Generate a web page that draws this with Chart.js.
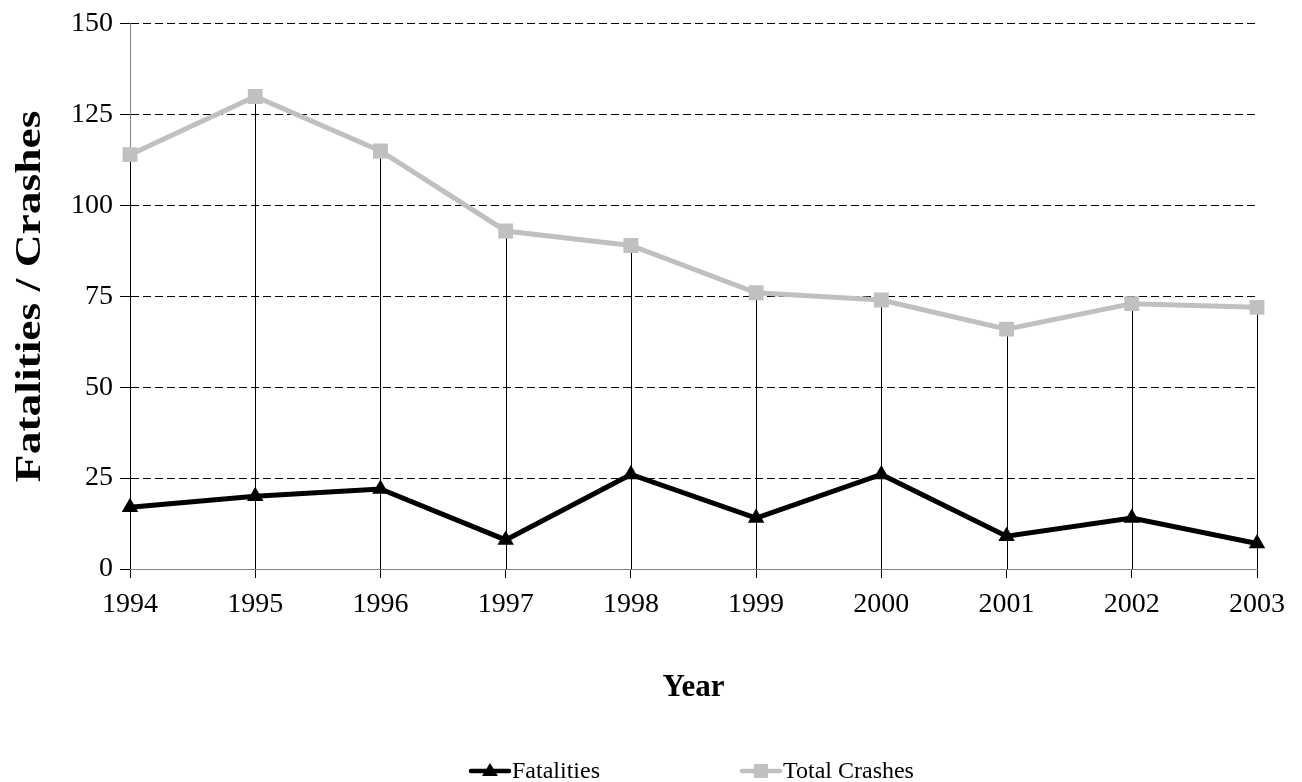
<!DOCTYPE html>
<html>
<head>
<meta charset="utf-8">
<script src="https://cdn.jsdelivr.net/npm/chart.js"></script>
<style>
html,body{margin:0;padding:0;background:#fff;}
#wrap{width:1302px;height:782px;position:relative;}
</style>
</head>
<body>
<div id="wrap"><canvas id="c" width="1302" height="782"></canvas></div>
<script>
// ---- data ----
const years = ['1994','1995','1996','1997','1998','1999','2000','2001','2002','2003'];
const fatalities = [17, 20, 22, 8, 26, 14, 26, 9, 14, 7];
const totalCrashes = [114, 130, 115, 93, 89, 76, 74, 66, 73, 72];
const yTicks = [0, 25, 50, 75, 100, 125, 150];
const seriesNames = ['Fatalities', 'Total Crashes'];
const xTitle = 'Year';
const yTitle = 'Fatalities / Crashes';

const FONT = "'Liberation Serif', 'Times New Roman', Times, serif";
Chart.defaults.font.family = FONT;
Chart.defaults.font.size = 28;
Chart.defaults.color = '#000';

// vertical drop lines from each Total Crashes point to the x axis
const dropLines = {
  id: 'dropLines',
  beforeDatasetsDraw(chart) {
    const meta = chart.getDatasetMeta(1);
    const y0 = chart.scales.y.getPixelForValue(0);
    const ctx = chart.ctx;
    ctx.save();
    ctx.strokeStyle = '#000';
    ctx.lineWidth = 1;
    ctx.beginPath();
    meta.data.forEach(pt => {
      const x = Math.round(pt.x) + 0.5;
      ctx.moveTo(x, pt.y);
      ctx.lineTo(x, y0);
    });
    ctx.stroke();
    ctx.restore();
  }
};

// the original y-axis title is stretched along its length: scale it vertically about its centre
const stretchedYTitle = {
  id: 'stretchedYTitle',
  afterUpdate(chart) {
    const s = chart.scales.y;
    if (!s || s._stretchWrapped) return;
    const orig = s.drawTitle;
    s.drawTitle = function () {
      const ctx = this.ctx;
      const cy = (this.top + this.bottom) / 2;
      ctx.save();
      ctx.translate(0, cy);
      ctx.scale(1, 1.3);
      ctx.translate(0, -cy);
      orig.call(this);
      ctx.restore();
    };
    s._stretchWrapped = true;
  }
};

// bottom legend drawn like the original (line + marker + text)
const bottomLegend = {
  id: 'bottomLegend',
  afterDraw(chart) {
    const ctx = chart.ctx;
    const y = 771;
    const starts = [471, 742];
    const lineLen = 38;
    ctx.save();
    chart.data.datasets.forEach((ds, i) => {
      const x0 = starts[i];
      const cx = x0 + lineLen / 2;
      ctx.strokeStyle = ds.borderColor;
      ctx.lineWidth = 4.5;
      ctx.lineCap = 'round';
      ctx.beginPath();
      ctx.moveTo(x0, y);
      ctx.lineTo(x0 + lineLen, y);
      ctx.stroke();
      ctx.fillStyle = ds.pointBackgroundColor;
      ctx.beginPath();
      if (ds.pointStyle === 'triangle') {
        ctx.moveTo(cx, y - 8);
        ctx.lineTo(cx + 8, y + 5);
        ctx.lineTo(cx - 8, y + 5);
        ctx.closePath();
      } else {
        ctx.rect(cx - 7, y - 7, 14, 14);
      }
      ctx.fill();
      ctx.fillStyle = '#000';
      ctx.font = '24px ' + FONT;
      ctx.textBaseline = 'middle';
      ctx.textAlign = 'left';
      ctx.fillText(ds.label, x0 + lineLen + 3, y + 1);
    });
    ctx.restore();
  }
};

new Chart(document.getElementById('c'), {
  type: 'line',
  data: {
    labels: years,
    datasets: [
      {
        label: seriesNames[0],
        data: fatalities,
        borderColor: '#000',
        backgroundColor: '#000',
        pointBackgroundColor: '#000',
        pointBorderColor: '#000',
        borderWidth: 5,
        pointStyle: 'triangle',
        pointRadius: 9.5,
        pointBorderWidth: 0,
        tension: 0,
        fill: false
      },
      {
        label: seriesNames[1],
        data: totalCrashes,
        borderColor: '#C0C0C0',
        backgroundColor: '#C0C0C0',
        pointBackgroundColor: '#C0C0C0',
        pointBorderColor: '#C0C0C0',
        borderWidth: 5,
        pointStyle: 'rect',
        pointRadius: 10.5,
        pointBorderWidth: 0,
        tension: 0,
        fill: false
      }
    ]
  },
  options: {
    responsive: false,
    animation: false,
    events: [],
    layout: { padding: { left: 0, right: 45, top: 12, bottom: 73 } },
    plugins: {
      legend: { display: false },
      tooltip: { enabled: false },
      title: { display: false }
    },
    scales: {
      x: {
        type: 'category',
        offset: false,
        afterFit: s => { s.height = 140; },
        grid: { drawOnChartArea: false, drawTicks: true, tickLength: 9, tickColor: '#000', color: '#000' },
        border: { display: true, color: '#808080', width: 1 },
        ticks: { padding: 10, maxRotation: 0, autoSkip: false, font: { size: 28 } },
        title: { display: true, text: xTitle, font: { size: 31, weight: 'bold' }, padding: { top: 0, bottom: 2 } }
      },
      y: {
        min: 0,
        max: 150,
        afterFit: s => { s.width = 130; },
        afterBuildTicks: s => { s.ticks = yTicks.map(v => ({ value: v })); },
        grid: {
          color: c => (c.tick && c.tick.value === 0) ? 'rgba(0,0,0,0)' : '#000',
          tickColor: '#000',
          tickLength: 10,
          lineWidth: 1,
          tickBorderDash: []
        },
        border: { display: true, color: '#808080', width: 1, dash: [8, 4] },
        ticks: { padding: 7, font: { size: 28 } },
        title: { display: true, text: yTitle, font: { size: 35, weight: 'bold' }, padding: { top: 10, bottom: 0 } }
      }
    }
  },
  plugins: [dropLines, stretchedYTitle, bottomLegend]
});
</script>
</body>
</html>
